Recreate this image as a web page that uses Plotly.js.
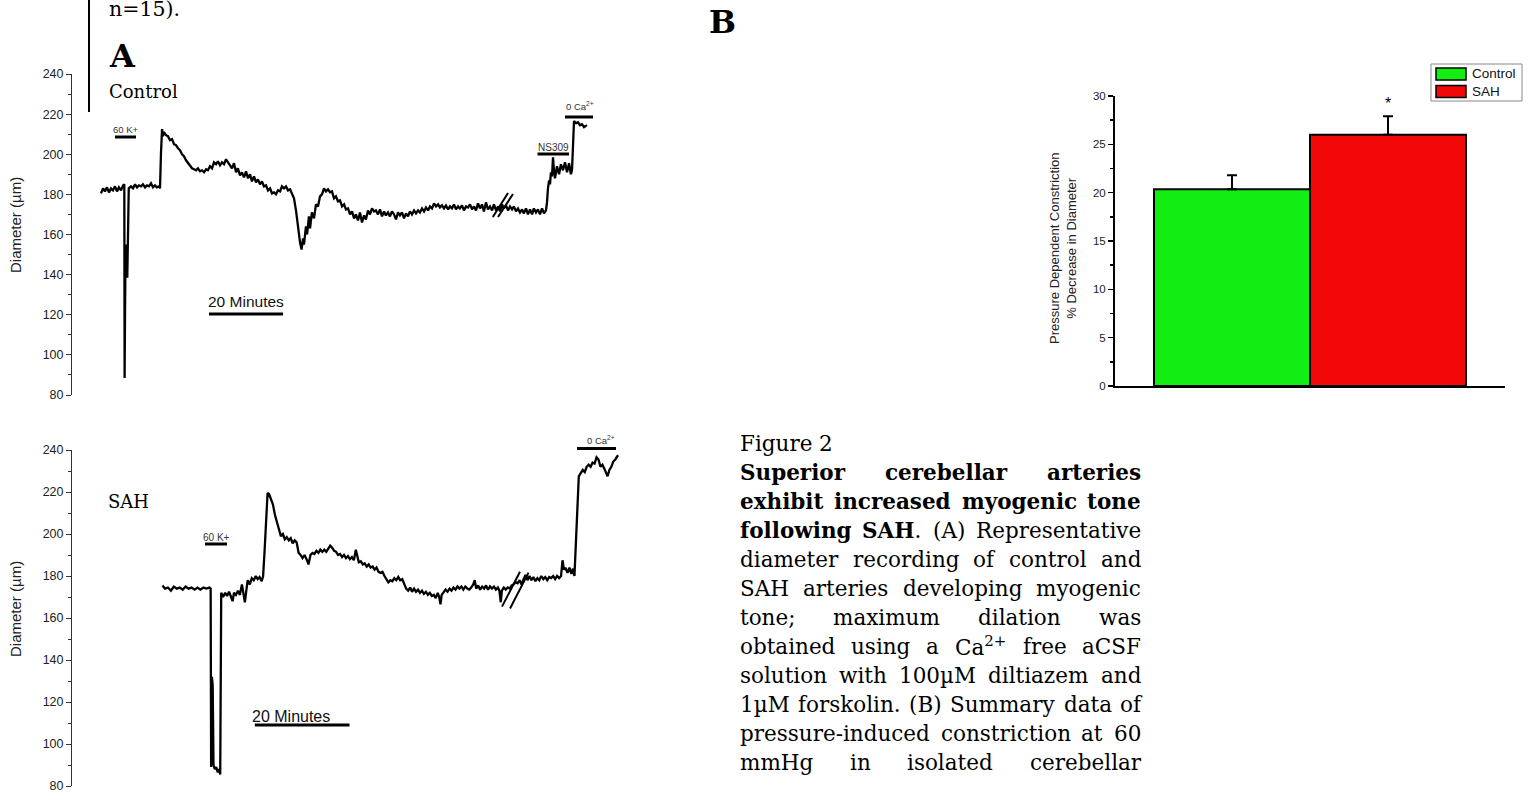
<!DOCTYPE html>
<html><head><meta charset="utf-8">
<script src="https://cdn.plot.ly/plotly-3.0.1.min.js"></script>
<style>html,body{margin:0;padding:0;background:#fff;overflow:hidden}#chart{width:1533px;height:793px}</style>
</head><body><div id="chart"></div>
<script>
// ---------- DATA ----------
// Panel A, Control: diameter (µm) vs elapsed recording time (min, as drawn)
const ctrlTime = [0,0.54,1.08,1.62,2.16,2.7,3.24,3.78,4.32,4.86,5.41,5.95,6.3,6.38,6.49,6.65,6.89,7.1,7.3,7.5,8.1,8.65,9.2,9.73,10.27,10.8,11.35,11.9,12.43,12.97,13.5,14.05,14.6,15.1,15.7,15.95,16.2,16.5,16.76,17.0,17.57,18.1,18.65,19.2,19.73,20.27,20.8,21.35,21.9,22.43,22.97,23.5,24.05,24.6,25.14,25.7,26.2,26.76,27.3,27.84,28.4,28.9,29.46,30.0,30.54,31.1,31.6,32.16,32.7,33.24,33.8,34.3,34.86,35.4,35.95,36.5,37.0,37.57,38.1,38.65,39.2,39.73,40.27,40.8,41.35,41.9,42.43,42.97,43.5,44.05,44.6,45.14,45.7,46.2,46.76,47.3,47.84,48.4,48.9,49.46,50.0,50.54,51.1,51.6,52.16,52.7,53.24,53.8,54.2,54.6,54.86,55.4,55.7,56.2,56.5,57.0,57.57,58.1,58.65,59.2,59.73,60.27,60.8,61.35,61.9,62.43,62.97,63.5,64.05,64.6,65.14,65.7,66.2,66.76,67.3,67.84,68.4,68.9,69.46,70.0,70.54,71.1,71.6,72.16,72.7,73.24,73.8,74.3,74.86,75.4,75.95,76.5,77.0,77.57,78.1,78.65,79.2,79.73,80.27,80.8,81.35,81.9,82.43,82.97,83.5,84.05,84.6,85.14,85.7,86.2,86.76,87.3,87.84,88.4,88.9,89.46,90.0,90.54,91.1,91.6,92.16,92.7,93.24,93.8,94.32,94.86,95.4,95.95,96.5,97.0,97.57,98.1,98.65,99.2,99.73,100.27,100.8,101.35,101.9,102.43,102.97,103.5,104.05,104.6,105.14,105.7,106.2,106.76,107.3,107.84,108.4,108.9,109.46,110.0,110.54,111.1,111.6,112.16,112.7,113.24,113.8,114.3,114.86,115.4,115.95,116.5,117.0,117.57,118.1,118.65,119.2,119.73,120.27,120.54,120.8,121.1,121.35,121.6,121.9,122.16,122.43,122.7,123.24,123.8,124.3,124.86,125.4,125.95,126.5,127.0,127.3,127.57,127.84,128.4,128.9,129.46,130.0,130.54,131.1,131.35];
const ctrlDiameter = [180.5,183,181.5,183.5,181,183,182,184,181.5,183.5,182,184.5,185,88.5,120,155,146,138.5,160,183,184,183,185,183.5,184.5,184,185,183.5,184.5,184,185.5,183.5,184.5,183.5,184,183,200,212.5,209,211,209.5,209,207,207.5,205,204.5,203,202,200,199,197,195.5,194,193,192.5,192,193,191.5,192,191,192.5,192,194,193,196,195,196.5,194.5,196,195,197.5,196,195,193,195.5,191,193,189.5,191,188.5,191.5,188,190,186.5,189,186,187.5,185,186.5,184,184.5,182,183,180.5,181,180,182,181.5,184,183,184,182,182.5,180,178,172,163,156,152.5,158,155,164,160,169,163,171,168,175,174,179,180,183,181.5,182.5,181,181.5,178,179,176.5,177,174,175,172.5,173,170,171.5,168,170,167,171,166,169.5,167.5,172,170,173,171.5,172,170,172.5,169,171.5,169.5,171,169,171.5,170,167.5,171,169.5,171,168,170.5,169,171.5,170,172,170.5,172,171,173,171.5,173.5,172,174,173,175.5,174,175,173.5,174.5,173,174.5,172.5,174,173,175,172.5,174,173,174.5,172,174,173.5,175,172.5,174,172,175.5,173,175,171.5,176,172.5,174,172,175,172,174,171.5,175,173,174.5,172,174,172.5,174,171.5,173,171,172.5,170.5,173,170,172.5,170,173,171,172.5,170,173,170.5,172,176,183,187,185,191,189,198.5,192,188,194,190,195,192,196,191,195.5,190,192,205,216.5,215.5,216,214.5,215,213.5,214.5,214.5];

// Panel A, SAH
const sahTime = [0,0.52,1.15,1.77,2.4,3.0,3.65,4.27,4.9,5.5,6.15,6.77,7.4,8.0,8.65,9.27,9.9,10.17,10.27,10.44,10.6,10.77,11.04,11.35,11.67,11.98,12.19,12.4,12.8,13.23,13.65,14.06,14.48,14.8,15.1,15.5,15.94,16.35,16.77,17.08,17.4,17.7,18.0,18.44,18.85,19.27,19.7,20.1,20.5,20.94,21.25,21.56,21.88,22.19,22.5,22.9,23.33,23.75,24.17,24.58,25.0,25.42,25.83,26.25,26.67,27.08,27.5,27.92,28.33,28.75,29.17,29.58,30.0,30.42,30.83,31.25,31.67,32.08,32.5,32.92,33.33,33.75,34.17,34.58,35.0,35.42,35.83,36.25,36.67,37.08,37.5,37.92,38.33,38.75,39.17,39.58,40.0,40.42,40.83,41.15,41.46,41.88,42.3,42.7,43.13,43.54,43.96,44.38,44.8,45.2,45.63,46.04,46.46,46.88,47.3,47.7,48.13,48.54,48.96,49.38,49.79,50.2,50.63,51.04,51.46,51.88,52.3,52.7,53.13,53.54,53.96,54.38,54.79,55.2,55.63,56.04,56.46,56.88,57.3,57.7,58.13,58.44,58.71,58.96,59.38,59.79,60.2,60.63,61.04,61.46,61.88,62.3,62.7,63.13,63.54,63.96,64.38,64.79,65.2,65.63,65.94,66.25,66.67,67.08,67.5,67.92,68.33,68.75,69.17,69.58,70.0,70.42,70.83,71.15,71.44,71.67,72.08,72.5,72.92,73.33,73.75,74.17,74.58,75.0,75.42,75.83,76.25,76.67,77.08,77.5,77.92,78.33,78.75,79.17,79.58,80.0,80.42,80.83,81.25,81.67,82.08,82.5,82.92,83.33,83.75,84.17,84.48,84.79,85.1,85.52,85.94,86.35,86.69,87.0,87.29,87.6,87.92,88.33,88.75,89.17,89.58,90.0,90.42,90.83,91.25,91.67,92.08,92.5,92.92,93.33,93.75,94.0,94.38,94.79,95.2,95.63,96.04,96.25];
const sahDiameter = [175.5,174,174.5,173,175,174,174.5,173.5,175,174,174.5,173.5,174.5,173.5,174.5,174,174.5,174,89,132,128,90,88,89,86.5,88,85.5,172,170,172,170.5,172.5,170,168,172,171,173,171,176,172,167.5,173,178,176,179,178,180,178.5,179.5,177.5,180,192,208,219.5,219,216,214,209,206,202,199,200,197.5,198.5,197,198,195.5,197,196,191,190,188.5,190,188,185.5,190,191,190.5,192,191,192.5,191.5,192.5,191.5,193,194.5,193.5,192,191.5,190,190.5,189,190,188.5,189.5,188,189,187.5,192.5,190,186.5,187,185.5,186,184.5,185.5,184,184.5,183,184,182,181.5,182,180,178.5,177,178,177.5,179,178,179.5,178,178.5,176,174,173,174.5,172.5,174,172.5,173.5,172,173,171.5,172.5,171,172,170.5,171,169.5,172,170,166.5,171,172,173.5,172.5,174,173,174.5,173.5,175,174,175,173.5,175,174,173.5,174.5,176,178,174,175.5,173.5,175,174,175.5,173.5,175,174,175,173.5,174.5,173,167.5,173,174.5,173.5,174.5,174,175.5,176,177,176.5,178,176,178.5,180.5,178,180,178,179.5,177.5,179,178,180,178.5,179.5,178,179.5,179,180,178.5,180,179,180,187.5,183,184,181.5,184,181,183.5,180,195,216,227.5,229,230.5,229.5,232,233,232,234,233.5,236.5,235.5,232,233,231,229,227.5,230.5,232,234.5,235.5,237,237.5];

const diameterTicks = [80,100,120,140,160,180,200,220,240];
const scaleBarMinutes = 20;

// Panel B
const groups = ['Control','SAH'];
const constriction = [20.35, 26.0];
const constrictionSEM = [1.45, 1.9];
const groupColors = ['#12ee12','#f20808'];
const constrictionTicks = [0,5,10,15,20,25,30];

// Caption text (segments: [text, bold])
const captionLines = [
  [['Figure 2',0]],
  [['Superior cerebellar arteries',1]],
  [['exhibit increased myogenic tone',1]],
  [['following SAH',1],['. (A) Representative',0]],
  [['diameter recording of control and',0]],
  [['SAH arteries developing myogenic',0]],
  [['tone; maximum dilation was',0]],
  [['obtained using a Ca<sup>2+</sup> free aCSF',0]],
  [['solution with 100µM diltiazem and',0]],
  [['1µM forskolin. (B) Summary data of',0]],
  [['pressure-induced constriction at 60',0]],
  [['mmHg in isolated cerebellar',0]]
];

// ---------- LAYOUT HELPERS ----------
const W = 1533, H = 793;
const X = p => p / W;
const Y = p => 1 - p / H;
const SANS = 'Arial, "Liberation Sans", sans-serif';
const SERIF = '"DejaVu Serif", serif';

const traces = [
  {x: ctrlTime, y: ctrlDiameter, xaxis:'x', yaxis:'y', type:'scatter', mode:'lines',
   line:{color:'#000', width:2.3}, showlegend:false, hoverinfo:'skip'},
  {x: sahTime, y: sahDiameter, xaxis:'x2', yaxis:'y2', type:'scatter', mode:'lines',
   line:{color:'#000', width:2.3}, showlegend:false, hoverinfo:'skip'}
];
groups.forEach((g,i) => {
  traces.push({type:'bar', x:[g], y:[constriction[i]], xaxis:'x3', yaxis:'y3', name:g,
    width:1, marker:{color:groupColors[i], line:{color:'#000', width:2}},
    error_y:{type:'data', symmetric:false, array:[constrictionSEM[i]], arrayminus:[0],
      color:'#000', thickness:2, width:5},
    showlegend:false, hoverinfo:'skip'});
});

const diamAxis = (domain) => ({
  domain: domain, range:[80,240], tickvals: diameterTicks, ticks:'outside', ticklen:5,
  tickwidth:1, tickcolor:'#333', showline:true, linecolor:'#333', linewidth:1,
  showgrid:false, zeroline:false, fixedrange:true, ticklabeloverflow:'allow',
  tickfont:{family:SANS, size:12.5, color:'#222'},
  minor:{dtick:10, ticks:'outside', ticklen:3, tickcolor:'#333', showgrid:false}
});

const layout = {
  width:W, height:H, margin:{l:0,r:0,t:0,b:0},
  paper_bgcolor:'#fff', plot_bgcolor:'rgba(0,0,0,0)',
  barmode:'overlay', bargap:0, hovermode:false, showlegend:false,
  xaxis:{domain:[X(72),X(640)], range:[(72-101)/3.7,(640-101)/3.7], visible:false, anchor:'y'},
  yaxis: Object.assign(diamAxis([Y(395),Y(74)]), {anchor:'x'}),
  xaxis2:{domain:[X(72),X(640)], range:[(72-162.5)/4.735,(640-162.5)/4.735], visible:false, anchor:'y2'},
  yaxis2: Object.assign(diamAxis([Y(786),Y(450)]), {anchor:'x2'}),
  xaxis3:{domain:[X(1115),X(1505)], type:'category', range:[-0.75,1.75], anchor:'y3',
    showline:true, linecolor:'#000', linewidth:2, ticks:'', showticklabels:false,
    showgrid:false, zeroline:false},
  yaxis3:{domain:[Y(386),Y(96)], range:[0,30], anchor:'x3', tickvals:constrictionTicks,
    ticks:'outside', ticklen:5, tickwidth:1.5, tickcolor:'#000', showline:true, linecolor:'#000',
    linewidth:2, showgrid:false, zeroline:false, ticklabeloverflow:'allow',
    tickfont:{family:SANS, size:11.5, color:'#222'},
    minor:{dtick:2.5, ticks:'outside', ticklen:3, tickcolor:'#000', showgrid:false}},
  shapes:[], annotations:[]
};

const S = layout.shapes, A = layout.annotations;
const hline = (x0,x1,y,w) => S.push({type:'line', xref:'paper', yref:'paper', x0:X(x0), x1:X(x1), y0:Y(y), y1:Y(y), line:{color:'#000', width:w||3}});
const txt = (text, x, y, o) => A.push(Object.assign({text:text, xref:'paper', yref:'paper', x:X(x), y:Y(y),
  showarrow:false, xanchor:'center', yanchor:'middle', borderpad:0,
  font:{family:SANS, size:10, color:'#333'}}, o||{}));

// Panel A decorations - control
hline(115,136,137); txt('60 K+',125.5,130,{font:{family:SANS,size:9.5,color:'#333'}});
hline(537.5,569,154); txt('NS309',553,148,{font:{family:SANS,size:10,color:'#333'}});
hline(565,593,117); txt('0 Ca<sup>2+</sup>',580,106,{font:{family:SANS,size:9.5,color:'#333'}});
S.push({type:'line', xref:'x', yref:'y', x0:29.2, x1:29.2+scaleBarMinutes, y0:120.4, y1:120.4, line:{color:'#000', width:3}});
txt('20 Minutes',246,301,{font:{family:SANS,size:15.5,color:'#111'}});
S.push({type:'line', xref:'x', yref:'y', x0:105.9, x1:110.0, y0:168.7, y1:180.7, line:{color:'#000', width:2}});
S.push({type:'line', xref:'x', yref:'y', x0:107.3, x1:111.35, y0:168.7, y1:180.2, line:{color:'#000', width:2}});

// Panel A decorations - SAH
hline(205,227,544); txt('60 K+',216,537.5,{font:{family:SANS,size:10,color:'#333'}});
hline(577,616,448.5); txt('0 Ca<sup>2+</sup>',601,439.5,{font:{family:SANS,size:9.5,color:'#333'}});
S.push({type:'line', xref:'x2', yref:'y2', x0:19.5, x1:19.5+scaleBarMinutes, y0:109, y1:109, line:{color:'#000', width:3}});
txt('20 Minutes',291,716,{font:{family:SANS,size:16,color:'#111'}});
S.push({type:'line', xref:'x2', yref:'y2', x0:71.7, x1:75.5, y0:165.4, y1:182, line:{color:'#000', width:2}});
S.push({type:'line', xref:'x2', yref:'y2', x0:73.4, x1:77.3, y0:164.5, y1:181.6, line:{color:'#000', width:2}});

// Axis titles
txt('Diameter (µm)',15,225,{textangle:-90,font:{family:SANS,size:15,color:'#222'}});
txt('Diameter (µm)',15,609,{textangle:-90,font:{family:SANS,size:15,color:'#222'}});
txt('Pressure Dependent Constriction<br>% Decrease in Diameter',1063,248,{textangle:-90,font:{family:SANS,size:13,color:'#222'}});

// Panel labels and document text
S.push({type:'line', xref:'paper', yref:'paper', x0:X(89), x1:X(89), y0:Y(0), y1:Y(112), line:{color:'#000', width:2}});
txt('n=15).',108,9,{xanchor:'left',font:{family:SERIF,size:20.5,color:'#000'}});
txt('<b>A</b>',108,56,{xanchor:'left',font:{family:SERIF,size:32,color:'#000'}});
txt('Control',108,91,{xanchor:'left',font:{family:SERIF,size:18,color:'#000'}});
txt('SAH',107,501,{xanchor:'left',font:{family:SERIF,size:18,color:'#000'}});
txt('<b>B</b>',708,22,{xanchor:'left',font:{family:SERIF,size:32,color:'#000'}});

// Panel B: star and manual legend
A.push({text:'*', xref:'x3', yref:'y3', x:groups[1], y:constriction[1]+constrictionSEM[1]+1.3,
  showarrow:false, font:{family:SANS,size:16,color:'#000'}, yanchor:'middle'});
S.push({type:'rect', xref:'paper', yref:'paper', x0:X(1431), x1:X(1522), y0:Y(101), y1:Y(64), line:{color:'#888', width:1}, fillcolor:'rgba(0,0,0,0)'});
groups.forEach((g,i) => {
  const yc = 74 + i*17.5;
  S.push({type:'rect', xref:'paper', yref:'paper', x0:X(1436), x1:X(1466), y0:Y(yc+6), y1:Y(yc-6),
    line:{color:'#000', width:1.5}, fillcolor:groupColors[i]});
  txt(g,1471,yc,{xanchor:'left',font:{family:SANS,size:13.5,color:'#111'}});
});

// Caption with justified lines
const CAP_L = 739, CAP_R = 1140, CAP_Y0 = 443, CAP_DY = 29, CAP_SIZE = 21.5;
const ctx = document.createElement('canvas').getContext('2d');
function measurePiece(text, bold) {
  let w = 0;
  const parts = text.split(/(<sup>.*?<\/sup>)/);
  parts.forEach(p => {
    if (!p) return;
    const m = p.match(/^<sup>(.*)<\/sup>$/);
    const size = m ? CAP_SIZE*0.7 : CAP_SIZE;
    ctx.font = (bold ? 'bold ' : '') + size + 'px "DejaVu Serif"';
    w += ctx.measureText(m ? m[1] : p).width;
  });
  return w;
}
captionLines.forEach((segs, li) => {
  const words = [];
  let attach = false;
  segs.forEach(([t,b]) => {
    const toks = t.split(' ');
    toks.forEach((tok, ti) => {
      if (ti === 0 && attach && tok !== '') { words[words.length-1].push([tok,b]); }
      else if (tok !== '') { words.push([[tok,b]]); }
    });
    attach = !t.endsWith(' ');
  });
  const widths = words.map(w => w.reduce((s,[t,b]) => s + measurePiece(t,b), 0));
  const total = widths.reduce((a,b)=>a+b,0);
  const justify = li > 0 && words.length > 1;
  const gap = justify ? (CAP_R - CAP_L - total)/(words.length-1) : measurePiece(' ',0);
  let x = CAP_L;
  const yc = CAP_Y0 + li*CAP_DY;
  words.forEach((w, wi) => {
    const html = w.map(([t,b]) => b ? '<b>'+t+'</b>' : t).join('');
    txt(html, x, yc, {xanchor:'left', font:{family:SERIF, size:CAP_SIZE, color:'#000'}});
    x += widths[wi] + gap;
  });
});

Plotly.newPlot('chart', traces, layout, {staticPlot:true, displayModeBar:false});
</script></body></html>
